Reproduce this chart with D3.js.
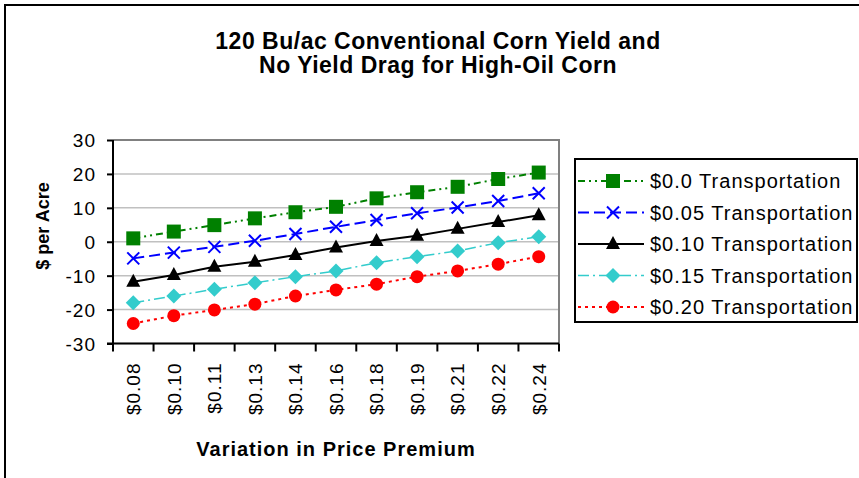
<html>

<head>
    <meta charset="utf-8">
    <script src="https://cdn.jsdelivr.net/npm/d3@7"></script>
    <style>
        body { margin: 0; background: #fff; }
        text { font-family: "Liberation Sans", Arial, sans-serif; fill: #000; }
    </style>
</head>

<body>
    <div id="container"></div>
    <script>
        // values
        const categories = ["$0.08", "$0.10", "$0.11", "$0.13", "$0.14", "$0.16", "$0.18", "$0.19", "$0.21", "$0.22", "$0.24"];
        const yTicks = [-30, -20, -10, 0, 10, 20, 30];

        const t000 = [1.0, 3.0, 4.9, 6.9, 8.7, 10.3, 12.8, 14.6, 16.2, 18.5, 20.4];
        const t005 = [-4.9, -3.2, -1.5, 0.3, 2.3, 4.4, 6.4, 8.4, 10.1, 12.0, 14.3];
        const t010 = [-11.8, -9.8, -7.4, -5.9, -3.9, -1.7, 0.2, 1.8, 3.8, 5.8, 7.8];
        const t015 = [-18.0, -16.0, -14.0, -12.1, -10.3, -8.6, -6.2, -4.4, -2.7, -0.3, 1.5];
        const t020 = [-24.1, -21.8, -20.1, -18.4, -16.0, -14.2, -12.5, -10.3, -8.6, -6.6, -4.4];

        const seriesNames = ["$0.0 Transportation", "$0.05 Transportation", "$0.10 Transportation", "$0.15 Transportation", "$0.20 Transportation"];

        const width = 859, height = 478;
        const plot = { left: 113, right: 559, top: 140, bottom: 343.5 };

        // style per series
        const styles = [
            { values: t000, color: "#008000", dash: "7,4,2,4,2,4", lw: 2, marker: "square" },
            { values: t005, color: "#0000ff", dash: "11,5", lw: 2, marker: "x" },
            { values: t010, color: "#000000", dash: null, lw: 2, marker: "triangle" },
            { values: t015, color: "#33cccc", dash: "11,4,2,4", lw: 1.5, marker: "diamond" },
            { values: t020, color: "#ff0000", dash: "3,4", lw: 2, marker: "circle" }
        ];

        const svg = d3.select("#container").append("svg")
            .attr("width", width)
            .attr("height", height);

        // outer chart frame
        svg.append("rect")
            .attr("x", 5).attr("y", 5)
            .attr("width", 900).attr("height", 500)
            .attr("fill", "#fff")
            .attr("stroke", "#000")
            .attr("stroke-width", 2);

        const x = d3.scaleBand()
            .domain(categories)
            .range([plot.left, plot.right]);
        const y = d3.scaleLinear()
            .domain([-30, 30])
            .range([plot.bottom, plot.top]);

        // gridlines
        svg.append("g")
            .selectAll("line")
            .data(yTicks)
            .join("line")
            .attr("x1", plot.left).attr("x2", plot.right)
            .attr("y1", d => y(d)).attr("y2", d => y(d))
            .attr("stroke", "#c0c0c0")
            .attr("stroke-width", 1.5);

        // top / right plot border
        svg.append("path")
            .attr("d", `M${plot.left},${plot.top}H${plot.right}V${plot.bottom}`)
            .attr("fill", "none")
            .attr("stroke", "#808080")
            .attr("stroke-width", 2);

        // y axis (plain hyphen for negatives, like the original)
        const yAxis = svg.append("g")
            .attr("transform", `translate(${plot.left},0)`)
            .call(d3.axisLeft(y).tickValues(yTicks).tickFormat(d => String(d)).tickSize(6).tickPadding(11));
        yAxis.select(".domain").attr("stroke", "#000").attr("stroke-width", 2)
            .attr("d", `M0,${plot.top}V${plot.bottom}`);
        yAxis.selectAll(".tick line").attr("stroke", "#000").attr("stroke-width", 2);
        yAxis.selectAll(".tick text")
            .style("font-size", "19px")
            .style("letter-spacing", "1px")
            .attr("dy", "0.36em");

        // x axis: ticks at category boundaries, labels at band centres
        const xAxis = svg.append("g")
            .attr("transform", `translate(0,${plot.bottom})`)
            .call(d3.axisBottom(x).tickSize(0).tickPadding(0));
        xAxis.select(".domain").remove();
        xAxis.append("line")
            .attr("x1", plot.left - 6).attr("x2", plot.right)
            .attr("stroke", "#000").attr("stroke-width", 2);
        xAxis.selectAll(".bound")
            .data(categories.map(c => x(c)).concat([x(categories[categories.length - 1]) + x.bandwidth()]))
            .join("line")
            .attr("class", "bound")
            .attr("x1", d => d).attr("x2", d => d)
            .attr("y1", 0).attr("y2", 8)
            .attr("stroke", "#000").attr("stroke-width", 2);
        xAxis.selectAll(".tick text")
            .style("font-size", "19px")
            .style("letter-spacing", "1px")
            .attr("text-anchor", "end")
            .attr("transform", "translate(0,19) rotate(-90)")
            .attr("x", 0).attr("y", 0)
            .attr("dy", "0.36em");

        // series lines and markers
        const line = d3.line()
            .x((d, i) => x(categories[i]) + x.bandwidth() / 2)
            .y(d => y(d));

        function drawMarker(g, type, color) {
            if (type === "square") {
                g.append("rect").attr("x", -7).attr("y", -7).attr("width", 14).attr("height", 14).attr("fill", color);
            } else if (type === "x") {
                g.append("path").attr("d", "M-6,-6L6,6M-6,6L6,-6").attr("stroke", color).attr("stroke-width", 2).attr("fill", "none");
            } else if (type === "triangle") {
                g.append("path").attr("d", "M0,-8L7,5L-7,5Z").attr("fill", color);
            } else if (type === "diamond") {
                g.append("path").attr("d", "M0,-7.5L7.5,0L0,7.5L-7.5,0Z").attr("fill", color);
            } else if (type === "circle") {
                g.append("circle").attr("r", 6.5).attr("fill", color);
            }
        }

        const seriesGroup = svg.append("g");
        styles.forEach(s => {
            seriesGroup.append("path")
                .datum(s.values)
                .attr("d", line)
                .attr("fill", "none")
                .attr("stroke", s.color)
                .attr("stroke-width", s.lw)
                .attr("stroke-dasharray", s.dash);
            s.values.forEach((v, i) => {
                const g = seriesGroup.append("g")
                    .attr("transform", `translate(${x(categories[i]) + x.bandwidth() / 2},${y(v)})`);
                drawMarker(g, s.marker, s.color);
            });
        });

        // title
        const title = svg.append("text")
            .attr("x", 438)
            .attr("text-anchor", "middle")
            .style("font-size", "23px")
            .style("font-weight", "bold")
            .style("letter-spacing", "0.5px");
        title.append("tspan").attr("x", 438).attr("y", 49).text("120 Bu/ac Conventional Corn Yield and");
        title.append("tspan").attr("x", 438).attr("y", 73).text("No Yield Drag for High-Oil Corn");

        // axis titles
        svg.append("text")
            .attr("transform", "translate(49,226) rotate(-90)")
            .attr("text-anchor", "middle")
            .style("font-size", "18px")
            .style("font-weight", "bold")
            .text("$ per Acre");

        svg.append("text")
            .attr("x", 336)
            .attr("y", 456)
            .attr("text-anchor", "middle")
            .style("font-size", "20px")
            .style("font-weight", "bold")
            .style("letter-spacing", "1px")
            .text("Variation in Price Premium");

        // legend
        const legend = svg.append("g");
        legend.append("rect")
            .attr("x", 575).attr("y", 159)
            .attr("width", 282).attr("height", 163)
            .attr("fill", "#fff")
            .attr("stroke", "#000")
            .attr("stroke-width", 2);
        const legendY = d3.scalePoint()
            .domain(seriesNames)
            .range([181, 307]);
        styles.forEach((s, i) => {
            const ly = legendY(seriesNames[i]);
            legend.append("line")
                .attr("x1", 578).attr("x2", 644)
                .attr("y1", ly).attr("y2", ly)
                .attr("stroke", s.color)
                .attr("stroke-width", s.lw)
                .attr("stroke-dasharray", s.dash);
            const g = legend.append("g").attr("transform", `translate(613,${ly})`);
            drawMarker(g, s.marker, s.color);
            legend.append("text")
                .attr("x", 650).attr("y", ly)
                .attr("dy", "0.36em")
                .style("font-size", "20px")
                .style("letter-spacing", "1px")
                .text(seriesNames[i]);
        });
    </script>
</body>

</html>
